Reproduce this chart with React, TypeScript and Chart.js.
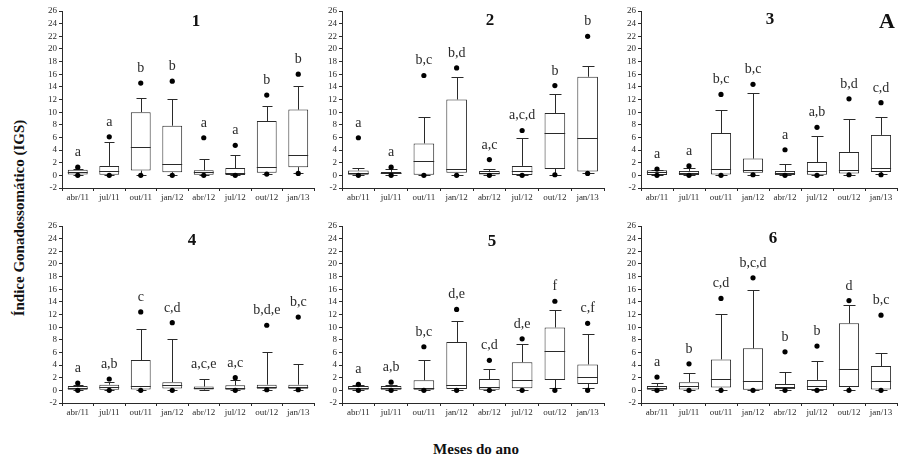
import React, { useEffect, useRef } from "react";
import { Chart, registerables } from "chart.js";

Chart.register(...registerables);

// ---- data -------------------------------------------------------------
const months = ["abr/11", "jul/11", "out/11", "jan/12", "abr/12", "jul/12", "out/12", "jan/13"];
const panelNames = ["1", "2", "3", "4", "5", "6"];
const yTickMin = -2;
const yTickMax = 26;
const yTickStep = 2;

// one row per panel, one value per month
const lowerQuartile = [
  [0.15, 0.1, 0.75, 0.5, 0.1, 0.05, 0.4, 1.3],
  [0.1, 0.2, 0.1, 0.4, 0.15, 0.05, 1.0, 0.6],
  [0.05, 0.05, 0.15, 0.4, 0.05, 0.1, 0.3, 0.55],
  [0.0, 0.1, 0.15, 0.3, 0.15, 0.0, 0.25, 0.25],
  [0.0, 0.1, 0.1, 0.2, 0.1, 0.35, 1.65, 1.0],
  [0.1, 0.15, 0.45, 0.1, 0.2, 0.05, 0.55, 0.15],
];
const medians = [
  [0.5, 0.7, 4.5, 1.75, 0.55, 0.3, 1.4, 3.2],
  [0.4, 0.35, 2.25, 1.0, 0.45, 0.75, 6.7, 5.95],
  [0.5, 0.45, 1.0, 0.85, 0.4, 0.75, 0.85, 1.15],
  [0.35, 0.5, 0.75, 0.8, 0.35, 0.35, 0.5, 0.55],
  [0.4, 0.35, 0.3, 0.9, 0.55, 1.6, 6.2, 2.1],
  [0.35, 0.65, 1.75, 1.5, 0.5, 0.7, 3.4, 1.45],
];
const upperQuartile = [
  [0.9, 1.5, 10.0, 7.85, 0.8, 1.15, 8.6, 10.4],
  [0.75, 0.55, 5.05, 12.0, 0.7, 1.5, 9.85, 15.6],
  [0.8, 0.7, 6.7, 2.65, 0.7, 2.1, 3.7, 6.4],
  [0.7, 0.9, 4.8, 1.3, 0.6, 0.8, 0.9, 0.9],
  [0.7, 0.7, 1.6, 7.65, 1.8, 4.45, 9.95, 4.1],
  [0.7, 1.3, 4.9, 6.65, 1.0, 1.65, 10.6, 3.85],
];
const whiskerLow = [
  [0.05, 0.05, 0.1, 0.1, 0.05, 0.0, 0.2, 0.4],
  [0.05, 0.05, 0.05, 0.1, 0.05, 0.0, 0.1, 0.35],
  [0.0, 0.0, 0.05, 0.1, 0.0, 0.0, 0.1, 0.2],
  [0.0, 0.0, 0.05, 0.1, 0.05, 0.0, 0.1, 0.1],
  [0.0, 0.0, 0.0, 0.05, 0.0, 0.1, 0.4, 0.35],
  [0.0, 0.0, 0.1, 0.0, 0.05, 0.0, 0.1, 0.0],
];
const whiskerHigh = [
  [1.0, 5.2, 12.3, 12.1, 2.65, 3.15, 11.0, 14.2],
  [1.2, 1.0, 9.3, 15.5, 1.0, 5.85, 12.9, 17.3],
  [0.8, 1.1, 10.4, 13.0, 1.8, 6.25, 8.85, 9.3],
  [0.9, 1.3, 9.7, 8.2, 1.8, 1.6, 6.1, 4.1],
  [0.8, 0.9, 4.75, 11.05, 3.3, 7.4, 12.7, 8.95],
  [1.15, 2.75, 12.15, 15.9, 2.85, 4.7, 13.5, 5.85],
];
const upperPoints = [
  [1.3, 6.1, 14.6, 14.9, 5.95, 4.75, 12.7, 16.0],
  [5.95, 1.3, 15.8, 17.0, 2.5, 7.1, 14.2, 22.0],
  [1.0, 1.5, 12.8, 14.4, 4.05, 7.6, 12.1, 11.5],
  [1.15, 1.8, 12.4, 10.7, null, 2.0, 10.3, 11.6],
  [0.95, 1.3, 6.9, 12.8, 4.75, 8.15, 14.1, 10.6],
  [2.1, 4.2, 14.55, 17.8, 6.1, 7.0, 14.2, 11.9],
];
const lowerPoints = [
  [0, 0, 0, 0, 0, 0, 0.2, 0.3],
  [0, 0, 0, 0, 0, 0, 0.1, 0.3],
  [0, 0, 0, 0.1, 0, 0, 0.1, 0.1],
  [0, 0, 0, 0, null, 0, 0.1, 0.1],
  [0, 0, 0, 0, 0, 0, 0, 0],
  [0, 0, 0, 0, 0, 0, 0, 0],
];
const groupLetters = [
  ["a", "a", "b", "b", "a", "a", "b", "b"],
  ["a", "a", "b,c", "b,d", "a,c", "a,c,d", "b", "b"],
  ["a", "a", "b,c", "b,c", "a", "a,b", "b,d", "c,d"],
  ["a", "a,b", "c", "c,d", "a,c,e", "a,c", "b,d,e", "b,c"],
  ["a", "a,b", "b,c", "d,e", "c,d", "d,e", "f", "c,f"],
  ["a", "b", "c,d", "b,c,d", "b", "b", "d", "b,c"],
];

// ---- layout -----------------------------------------------------------
const SERIF = "'Liberation Serif', 'Times New Roman', Times, serif";
const INK = "#2a2a2a";
const Y_AXIS_W = 24;
const PAD_TOP = 10;
const PAD_RIGHT = 4;
const X_AXIS_H = 18;

// plot-area rectangles on the page and title anchors
const frames = [
  { left: 62, top: 11, right: 314, bottom: 188, titleX: 196, titleY: 20 },
  { left: 342, top: 11, right: 604, bottom: 188, titleX: 490, titleY: 19 },
  { left: 641, top: 11, right: 897, bottom: 188, titleX: 770, titleY: 18 },
  { left: 62, top: 226, right: 314, bottom: 403, titleX: 192, titleY: 239 },
  { left: 342, top: 226, right: 604, bottom: 403, titleX: 492, titleY: 240 },
  { left: 641, top: 226, right: 897, bottom: 403, titleX: 773, titleY: 237 },
];

const crisp = (v: number) => Math.round(v) + 0.5;

function makeBoxPlugin(p: number) {
  return {
    id: "boxParts" + p,
    beforeDatasetsDraw(chart: any) {
      const meta = chart.getDatasetMeta(0);
      const y = chart.scales.y;
      const ctx = chart.ctx;
      ctx.save();
      ctx.strokeStyle = INK;
      ctx.lineWidth = 1;
      meta.data.forEach((bar: any, i: number) => {
        const x = crisp(bar.x);
        const capHalf = Math.round((bar.width / 2) * 0.55);
        const yQ3 = y.getPixelForValue(upperQuartile[p][i]);
        const yHi = crisp(y.getPixelForValue(whiskerHigh[p][i]));
        const yQ1 = y.getPixelForValue(lowerQuartile[p][i]);
        const yLo = crisp(y.getPixelForValue(whiskerLow[p][i]));
        ctx.beginPath();
        ctx.moveTo(x, yQ3);
        ctx.lineTo(x, yHi);
        ctx.moveTo(x - capHalf, yHi);
        ctx.lineTo(x + capHalf, yHi);
        ctx.moveTo(x, yQ1);
        ctx.lineTo(x, yLo);
        ctx.moveTo(x - capHalf, yLo);
        ctx.lineTo(x + capHalf, yLo);
        ctx.stroke();
      });
      ctx.restore();
    },
    afterDatasetDraw(chart: any, args: any) {
      if (args.index !== 0) return;
      const meta = chart.getDatasetMeta(0);
      const y = chart.scales.y;
      const ctx = chart.ctx;
      ctx.save();
      ctx.strokeStyle = INK;
      ctx.lineWidth = 1;
      meta.data.forEach((bar: any, i: number) => {
        const ym = crisp(y.getPixelForValue(medians[p][i]));
        const half = bar.width / 2;
        ctx.beginPath();
        ctx.moveTo(bar.x - half, ym);
        ctx.lineTo(bar.x + half, ym);
        ctx.stroke();
      });
      ctx.restore();
    },
    afterDatasetsDraw(chart: any) {
      const meta = chart.getDatasetMeta(0);
      const y = chart.scales.y;
      const ctx = chart.ctx;
      ctx.save();
      ctx.fillStyle = INK;
      ctx.font = `14px ${SERIF}`;
      ctx.textAlign = "center";
      ctx.textBaseline = "alphabetic";
      meta.data.forEach((bar: any, i: number) => {
        const pt = upperPoints[p][i];
        const topVal = pt == null ? whiskerHigh[p][i] : Math.max(pt, whiskerHigh[p][i]);
        ctx.fillText(groupLetters[p][i], bar.x, y.getPixelForValue(topVal) - 11);
      });
      ctx.restore();
    },
  };
}

function Panel({ p }: { p: number }) {
  const ref = useRef<HTMLCanvasElement | null>(null);
  const f = frames[p];
  const width = f.right - f.left + Y_AXIS_W + PAD_RIGHT;
  const height = f.bottom - f.top + PAD_TOP + X_AXIS_H;

  useEffect(() => {
    if (!ref.current) return;
    const tickFont = { family: SERIF, size: 9 };
    const chart = new Chart(ref.current, {
      type: "bar",
      data: {
        labels: months,
        datasets: [
          {
            type: "bar",
            data: lowerQuartile[p].map((q1, i) => [q1, upperQuartile[p][i]]),
            backgroundColor: "#ffffff",
            borderColor: INK,
            borderWidth: 1,
            borderSkipped: false,
            barPercentage: 0.63,
            categoryPercentage: 1,
            order: 2,
          } as any,
          {
            type: "line",
            data: upperPoints[p],
            showLine: false,
            pointRadius: 2.6,
            pointHoverRadius: 2.6,
            pointBackgroundColor: "#000",
            pointBorderColor: "#000",
            pointBorderWidth: 0,
            clip: false,
            order: 1,
          } as any,
          {
            type: "line",
            data: lowerPoints[p],
            showLine: false,
            pointRadius: 2.6,
            pointHoverRadius: 2.6,
            pointBackgroundColor: "#000",
            pointBorderColor: "#000",
            pointBorderWidth: 0,
            clip: false,
            order: 1,
          } as any,
        ],
      },
      options: {
        responsive: false,
        animation: false,
        events: [],
        layout: { padding: { top: PAD_TOP, right: PAD_RIGHT, left: 0, bottom: 0 } },
        plugins: { legend: { display: false }, tooltip: { enabled: false } },
        scales: {
          x: {
            offset: true,
            grid: { drawOnChartArea: false, drawTicks: true, tickLength: 3, color: INK },
            border: { display: true, color: INK, width: 1 },
            ticks: {
              font: tickFont,
              color: INK,
              maxRotation: 0,
              minRotation: 0,
              autoSkip: false,
              padding: 1,
            },
            afterFit: (s: any) => {
              s.height = X_AXIS_H;
            },
          },
          y: {
            min: yTickMin,
            max: yTickMax,
            grid: { drawOnChartArea: false, drawTicks: true, tickLength: 3, color: INK },
            border: { display: true, color: INK, width: 1 },
            ticks: {
              stepSize: yTickStep,
              autoSkip: false,
              font: tickFont,
              color: INK,
              padding: 2,
            },
            afterFit: (s: any) => {
              s.width = Y_AXIS_W;
            },
          },
        },
      } as any,
      plugins: [makeBoxPlugin(p)],
    });
    return () => chart.destroy();
  }, [p]);

  return (
    <>
      <canvas
        ref={ref}
        width={width}
        height={height}
        style={{
          position: "absolute",
          left: f.left - Y_AXIS_W,
          top: f.top - PAD_TOP,
          width,
          height,
        }}
      />
      <div
        style={{
          position: "absolute",
          left: f.titleX,
          top: f.titleY,
          transform: "translate(-50%, -50%)",
          font: `bold 17px ${SERIF}`,
          lineHeight: 1,
          color: "#111",
          whiteSpace: "nowrap",
        }}
      >
        {panelNames[p]}
      </div>
    </>
  );
}

export default function App() {
  return (
    <div
      style={{
        position: "absolute",
        left: 0,
        top: 0,
        width: 901,
        height: 462,
        background: "#fff",
        overflow: "hidden",
        fontFamily: SERIF,
      }}
    >
      {frames.map((_, p) => (
        <Panel key={p} p={p} />
      ))}
      <div
        style={{
          position: "absolute",
          left: 887,
          top: 21,
          transform: "translate(-50%, -50%)",
          font: `bold 22px ${SERIF}`,
          lineHeight: 1,
          color: "#111",
        }}
      >
        A
      </div>
      <div
        style={{
          position: "absolute",
          left: 19,
          top: 218,
          transform: "translate(-50%, -50%) rotate(-90deg)",
          font: `bold 15px ${SERIF}`,
          lineHeight: 1,
          color: "#111",
          whiteSpace: "nowrap",
        }}
      >
        Índice Gonadossomático (IGS)
      </div>
      <div
        style={{
          position: "absolute",
          left: 476,
          top: 449,
          transform: "translate(-50%, -50%)",
          font: `bold 15px ${SERIF}`,
          lineHeight: 1,
          color: "#111",
          whiteSpace: "nowrap",
        }}
      >
        Meses do ano
      </div>
    </div>
  );
}
